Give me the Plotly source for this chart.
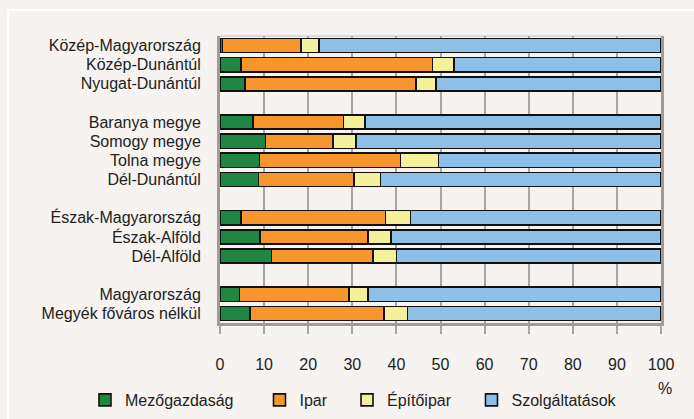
import plotly.graph_objects as go

# ---- data ----
regions = [
    "Közép-Magyarország", "Közép-Dunántúl", "Nyugat-Dunántúl",
    "Baranya megye", "Somogy megye", "Tolna megye", "Dél-Dunántúl",
    "Észak-Magyarország", "Észak-Alföld", "Dél-Alföld",
    "Magyarország", "Megyék főváros nélkül",
]
group_sizes = [3, 4, 3, 2]

mezogazdasag = [0.6, 4.7, 5.6, 7.5, 10.3, 9.0, 8.7, 4.7, 9.1, 11.7, 4.4, 6.8]
ipar = [17.7, 43.5, 38.9, 20.5, 15.3, 31.9, 21.7, 32.8, 24.4, 23.0, 24.8, 30.4]
epitoipar = [4.2, 4.9, 4.5, 4.9, 5.2, 8.6, 6.0, 5.7, 5.3, 5.3, 4.4, 5.3]
szolgaltatasok = [round(100 - a - b - c, 1) for a, b, c in zip(mezogazdasag, ipar, epitoipar)]

series_names = ["Mezőgazdaság", "Ipar", "Építőipar", "Szolgáltatások"]
x_ticks = [0, 10, 20, 30, 40, 50, 60, 70, 80, 90, 100]

# ---- positions (rows with a blank row between groups) ----
positions = []
pos = 0
for gi, n in enumerate(group_sizes):
    for _ in range(n):
        positions.append(pos)
        pos += 1
    pos += 1
last_slot = positions[-1]

colors = ["#1f8742", "#f7962b", "#f5f09a", "#8ec0e7"]
FONT = "Liberation Sans Narrow, Arial Narrow, Liberation Sans, Arial, sans-serif"
FS = 16
BG = "#f6f3f0"

fig = go.Figure()
legend_ids = ["legend", "legend2", "legend3", "legend4"]
for name, vals, col, lg in zip(series_names,
                               [mezogazdasag, ipar, epitoipar, szolgaltatasok],
                               colors, legend_ids):
    fig.add_trace(go.Bar(
        x=vals, y=positions, orientation="h", name=name,
        marker=dict(color=col, line=dict(color="#111111", width=1.6)),
        width=0.74, legend=lg,
        hovertemplate="%{x}%<extra>" + name + "</extra>",
    ))

W, H = 694, 419
L, R, T, B = 220, 33, 36, 96
pw, ph = W - L - R, H - T - B

def px2x(px):
    return (px - L) / pw

def py2y(py):
    return (H - B - py) / ph

legend_centers = [105, 279.5, 367, 491.5]
leg_common = dict(bgcolor="rgba(0,0,0,0)", font=dict(family=FONT, size=FS, color="#222222"),
                  xref="container", yref="container", xanchor="left", yanchor="middle",
                  orientation="h", borderwidth=0)
legends = {}
for lg, cx in zip(legend_ids, legend_centers):
    d = dict(leg_common)
    d.update(x=(cx - 20) / W, y=1 - 400 / H)
    legends[lg] = d

fig.update_layout(
    width=W, height=H,
    margin=dict(l=L, r=R, t=T, b=B, autoexpand=False),
    paper_bgcolor=BG, plot_bgcolor=BG,
    barmode="stack",
    font=dict(family=FONT, size=FS, color="#222222"),
    xaxis=dict(
        range=[0, 100], tickvals=x_ticks, ticktext=[str(v) for v in x_ticks],
        showgrid=True, gridcolor="#a6a6a6", gridwidth=1.6,
        showline=True, linecolor="#9c9c9c", linewidth=3,
        ticks="outside", ticklen=8, tickcolor="#a6a6a6", tickwidth=1.5,
        ticklabelstandoff=17, zeroline=False, fixedrange=True, automargin=False,
    ),
    yaxis=dict(
        range=[last_slot + 0.5, -0.5],
        tickvals=positions, ticktext=regions,
        showgrid=False, zeroline=False,
        showline=True, linecolor="#9c9c9c", linewidth=3, mirror=True,
        ticks="", ticklabelstandoff=13, fixedrange=True, automargin=False,
    ),
    showlegend=True,
    **legends,
    shapes=[
        dict(type="line", xref="paper", yref="paper", x0=0, x1=1, y0=1, y1=1,
             line=dict(color="#c4c4c4", width=1.2)),
        dict(type="rect", xref="paper", yref="paper",
             x0=px2x(8), x1=px2x(W + 20), y0=py2y(H + 20), y1=py2y(10),
             line=dict(color="#ffffff", width=2), fillcolor="rgba(0,0,0,0)", layer="below"),
    ],
    annotations=[
        dict(text="%", xref="paper", yref="paper", x=px2x(665), y=py2y(389),
             showarrow=False, xanchor="center", yanchor="middle",
             font=dict(family=FONT, size=FS, color="#222222")),
    ],
)

fig.write_html(
    "out.html",
    config={"displayModeBar": False},
    post_script="document.body.style.margin='0';document.body.style.background='" + BG + "';",
)
